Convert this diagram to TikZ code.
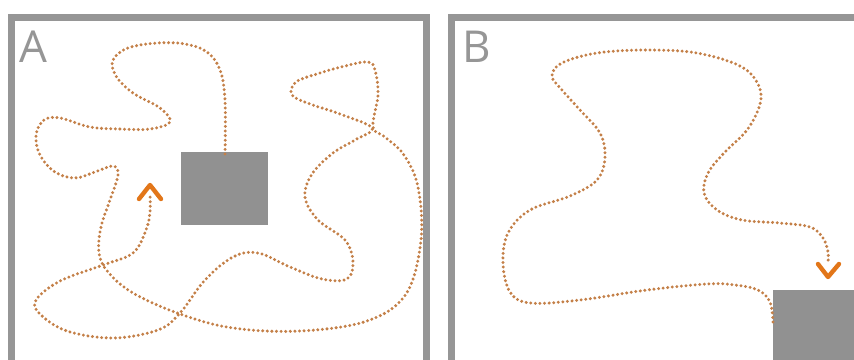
\documentclass[tikz,border=0pt]{standalone}
\usepackage{fontspec}
\setmainfont{Open Sans}
\definecolor{framegray}{RGB}{150,150,150}
\definecolor{boxgray}{RGB}{145,145,145}
\definecolor{pathorange}{RGB}{196,128,72}
\definecolor{tiporange}{RGB}{226,118,25}
\begin{document}
\begin{tikzpicture}[x=1pt,y=-1pt,
  frame/.style={draw=framegray,line width=7pt},
  target/.style={fill=boxgray,draw=none,minimum width=#1,inner sep=0pt,anchor=north west},
  walk/.style={draw=pathorange,line width=3.3pt,line cap=round,dash pattern=on 0pt off 4.6pt},
  chevron/.style={draw=tiporange,line width=4.4pt,line join=round,line cap=round},
  panel/.style={text=framegray,font=\fontsize{44}{44}\selectfont,inner sep=0pt,anchor=base west}]
\useasboundingbox (0,0) rectangle (854,359);
\clip (0,0) rectangle (854,359);
\fill[white] (0,0) rectangle (854,359);
% frames
\draw[frame] (11.5,380) -- (11.5,17) -- (426,17) -- (426,380);
\draw[frame] (451.5,380) -- (451.5,17) -- (880,17);
\node[panel] (la) at (19,62) {A};
\node[panel] (lb) at (462,62) {B};
% targets
\node[target=87pt,minimum height=73pt] (ra) at (181,152) {};
\node[target=90pt,minimum height=75pt] (rb) at (773,290) {};
% path A
\coordinate (ea) at (150,195);
\draw[walk] plot[smooth,tension=0.6] coordinates {
 ([yshift=-2pt]ra.north -| 225,0) (225,100) (220,70) (207,52) (185,44) (157,43) (128,48) (113,60) (116,76)
 (133,93) (160,108) (170,122) (150,129) (120,129) (90,127) (60,118) (44,120) (36,135)
 (40,155) (55,172) (75,178) (95,172) (113,166) (118,175) (110,200) (101,227) (99,253)
 (108,272) (133,293) (180,314) (233,328) (300,331) (367,321) (406,294) (421,240) (418,187)
 (404,155) (385,137) (373,127) (378,95) (375,70) (368,62) (345,66) (320,73) (296,82) (292,95)
 (310,104) (340,114) (372,128) (355,140) (333,153) (312,174) (305,197) (318,220) (345,240)
 (353,262) (347,279) (322,279) (290,267) (258,253) (233,257) (205,280) (180,313)
 (158,330) (113,338) (67,331) (40,314) (36,300) (60,281) (103,265) (133,253) (146,230) (150,212) (ea)};
\draw[chevron] (139,199) -- (150,185) -- (161,199);
% path B
\coordinate (eb) at (828,262);
\draw[walk] plot[smooth,tension=0.6] coordinates {
 (rb.west |- 0,322) (770,302) (758,290) (735,285) (707,284) (647,290) (580,300) (530,303) (510,292)
 (503,263) (508,233) (530,210) (570,196) (597,180) (605,157) (600,133) (580,110)
 (562,90) (552,76) (562,63) (597,53) (647,50) (697,53) (740,66) (758,84) (760,104)
 (747,130) (724,153) (708,173) (704,193) (717,210) (742,220) (780,223) (810,227)
 (823,238) (828,252) (eb)};
\draw[chevron] (818,264) -- (828,277) -- (839,264);
\end{tikzpicture}
\end{document}
